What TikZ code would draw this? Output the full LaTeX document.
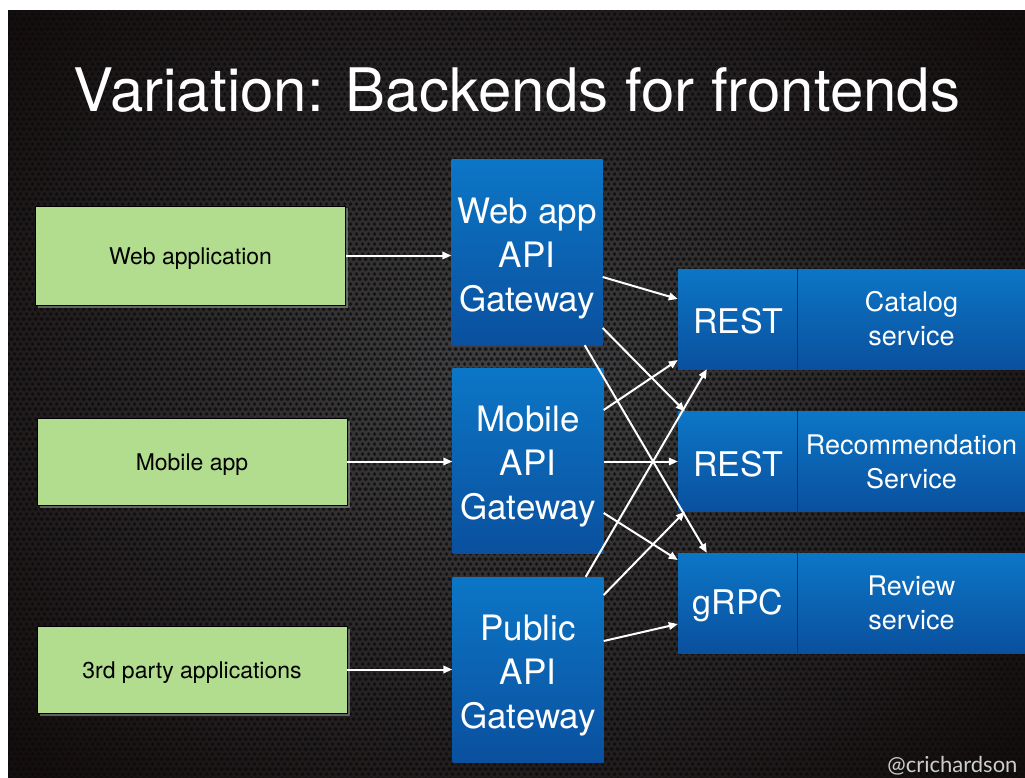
\documentclass[tikz,border=0pt]{standalone}
\usepackage{fontspec}
\setmainfont{TeX Gyre Heros}
\newfontfamily\handlefont{Lato}
\usetikzlibrary{arrows.meta,shadows,patterns.meta,calc}
\newcommand{\mystrut}[1]{\rule{0pt}{#1}}
\definecolor{bgdark}{RGB}{20,14,14}
\definecolor{bgmid}{RGB}{66,66,68}
\definecolor{holes}{RGB}{10,10,10}
\definecolor{appgreen}{RGB}{178,220,142}
\definecolor{bluetop}{RGB}{12,118,198}
\definecolor{bluebot}{RGB}{10,80,158}
\definecolor{divline}{RGB}{20,50,90}
\definecolor{handlegray}{RGB}{205,205,205}
\tikzdeclarepattern{
  name=hexholes, type=uncolored,
  bottom left={(0pt,0pt)}, top right={(6pt,10.4pt)},
  tile size={(6pt,10.4pt)},
  code={
    \fill (0pt,0pt) circle (2.1pt);
    \fill (6pt,0pt) circle (2.1pt);
    \fill (0pt,10.4pt) circle (2.1pt);
    \fill (6pt,10.4pt) circle (2.1pt);
    \fill (3pt,5.2pt) circle (2.1pt);
  }
}
\begin{document}
\begin{tikzpicture}[x=1pt,y=-1pt,
  client/.style={draw=black, line width=0.8pt, fill=appgreen, inner sep=0pt,
    minimum width=310pt, text=black, font=\fontsize{23}{27}\selectfont,
    drop shadow={opacity=0.7, shadow xshift=2.5pt, shadow yshift=-2.5pt}},
  gw/.style={top color=bluetop, bottom color=bluebot, inner sep=0pt,
    minimum width=151pt, minimum height=185pt, align=center, text=white,
    font=\fontsize{35}{44}\selectfont},
  proto/.style={top color=bluetop, bottom color=bluebot, inner sep=0pt,
    minimum width=120pt, minimum height=100pt, text=white,
    font=\fontsize{34}{40}\selectfont},
  svc/.style={top color=bluetop, bottom color=bluebot, inner sep=0pt,
    minimum width=227pt, minimum height=100pt, align=center, text=white,
    font=\fontsize{27}{34}\selectfont},
  conn/.style={white, line width=2pt, -{Triangle[length=9pt,width=7.5pt]}},
  divider/.style={divline, line width=0.8pt}
]
\useasboundingbox (0,0) rectangle (1025,778);
\fill[white] (0,0) rectangle (1025,778);
\begin{scope}
\clip (8,11) rectangle (1025,778);
\shade[inner color=bgmid, outer color=bgdark] (-150,-150) rectangle (1175,928);
\fill[pattern=hexholes, pattern color=holes, fill opacity=0.75] (8,11) rectangle (1025,778);

% title
\node[text=white, font=\fontsize{60}{70}\selectfont, anchor=base] (title) at (517,112) {Variation: Backends for frontends};

% clients
\node[client, minimum height=99pt] (webapp) at (190.5,255.5) {\mystrut{23pt}Web application};
\node[client, minimum height=87pt] (mobapp) at (192,461.5) {\mystrut{23pt}Mobile app};
\node[client, minimum height=87pt] (third) at (192,669.5) {\mystrut{23pt}3rd party applications};

% gateways
\node[gw] (wgw) at (527,252.5) {\mystrut{37pt}Web app\\API\\Gateway};
\node[gw] (mgw) at (528,461) {\mystrut{37pt}Mobile\\API\\Gateway};
\node[gw] (pgw) at (528,669.5) {\mystrut{37pt}Public\\API\\Gateway};

% services
\node[proto] (catrest) at (738,319) {\mystrut{30pt}REST};
\node[svc] (catsvc) at (911.5,319) {Catalog\\service};
\node[proto] (recrest) at (738,461.5) {\mystrut{30pt}REST};
\node[svc] (recsvc) at (911.5,461.5) {Recommendation\\Service};
\node[proto] (revrpc) at (738,603) {\mystrut{31pt}gRPC};
\node[svc] (revsvc) at (911.5,603) {Review\\service};
\draw[divider] (catsvc.north west) -- (catsvc.south west);
\draw[divider] (recsvc.north west) -- (recsvc.south west);
\draw[divider] (revsvc.north west) -- (revsvc.south west);

% client -> gateway
\draw[conn] (webapp.east) -- (webapp.east -| wgw.west);
\draw[conn] (mobapp.east) -- (mobapp.east -| mgw.west);
\draw[conn] (third.east) -- (third.east -| pgw.west);

% web gateway
\draw[conn] ([yshift=-24.5pt]wgw.east) -- ([yshift=20pt]catrest.west);
\draw[conn] ([yshift=-75.5pt]wgw.east) -- ([xshift=7pt]recrest.north west);
\draw[conn] ([xshift=-18pt]wgw.south east) -- ([xshift=29pt]revrpc.north west);

% mobile gateway
\draw[conn] ([yshift=51pt]mgw.east) -- ([yshift=-41pt]catrest.west);
\draw[conn] (mgw.east |- recrest.west) -- (recrest.west);
\draw[conn] ([yshift=-52pt]mgw.east) -- ([yshift=43pt]revrpc.west);

% public gateway
\draw[conn] ([xshift=-18pt]pgw.north east) -- ([xshift=29pt]catrest.south west);
\draw[conn] ([yshift=74.5pt]pgw.east) -- ([xshift=7pt]recrest.south west);
\draw[conn] ([yshift=28.5pt]pgw.east) -- ([yshift=-21pt]revrpc.west);

% handle
\node[text=handlegray, font=\handlefont\fontsize{22}{26}\selectfont, anchor=base east] (handle) at (1021,772) {@crichardson};
\end{scope}
\end{tikzpicture}
\end{document}
